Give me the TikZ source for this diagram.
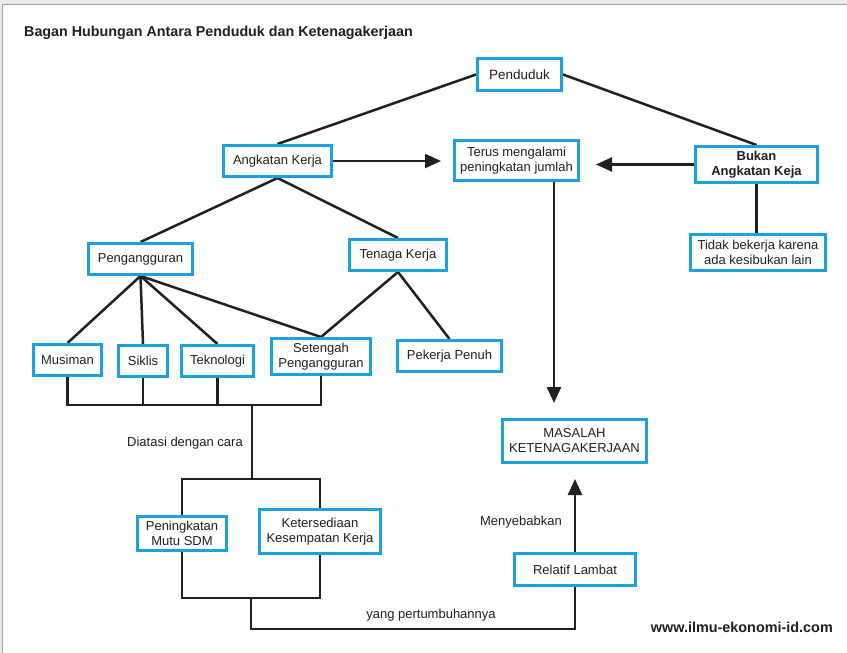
\documentclass[tikz,border=0pt]{standalone}
\usepackage{fontspec}
\setmainfont{Liberation Sans}
\usetikzlibrary{arrows.meta}
\pgfdeclarelayer{background}
\pgfsetlayers{background,main}
\definecolor{boxblue}{RGB}{27,161,226}
\definecolor{ink}{RGB}{35,31,32}
\definecolor{framegray}{RGB}{160,160,165}
\definecolor{bandgray}{RGB}{233,233,238}
\begin{document}
\begin{tikzpicture}[x=1pt,y=-1pt,
  box/.style={draw=boxblue, line width=3pt, fill=white, text=ink, align=center,
    inner sep=0pt, font=\fontsize{13}{15}\selectfont},
  conn/.style={draw=ink, line width=2.5pt},
  arr/.style={conn, -{Triangle[length=16pt,width=14pt]}},
  lbl/.style={text=ink, inner sep=0pt, font=\fontsize{13}{15}\selectfont}]
\useasboundingbox (0,0) rectangle (847,653);

% title and credit
\node[anchor=west, inner sep=0pt, text=ink, font=\bfseries\fontsize{14.3}{16}\selectfont] (title) at (24,33) {Bagan Hubungan Antara Penduduk dan Ketenagakerjaan};
\node[anchor=east, inner sep=0pt, text=ink, font=\bfseries\fontsize{14.4}{16}\selectfont] (web) at (833,627) {www.ilmu-ekonomi-id.com};

% nodes
\node[box, minimum width=84pt, minimum height=32pt, font=\fontsize{13.5}{15}\selectfont] (pend) at (519.5,74.5) {Penduduk};
\node[box, minimum width=108pt, minimum height=31pt] (ak) at (277.5,161) {Angkatan Kerja};
\node[box, minimum width=124pt, minimum height=40pt] (terus) at (516.5,160.5) {Terus mengalami\\peningkatan jumlah};
\node[box, minimum width=122pt, minimum height=36pt, font=\bfseries\fontsize{13}{15}\selectfont] (bukan) at (756.5,164.5) {Bukan\\Angkatan Keja};
\node[box, minimum width=135pt, minimum height=36pt] (tidak) at (758,252.5) {Tidak bekerja karena\\ada kesibukan lain};
\node[box, minimum width=104pt, minimum height=31pt] (peng) at (140.5,259) {Pengangguran};
\node[box, minimum width=97pt, minimum height=31pt] (tk) at (398,255) {Tenaga Kerja};
\node[box, minimum width=68pt, minimum height=31pt] (mus) at (67.5,360) {Musiman};
\node[box, minimum width=49pt, minimum height=31pt] (sik) at (143,361) {Siklis};
\node[box, minimum width=72pt, minimum height=31pt] (tek) at (217.5,361) {Teknologi};
\node[box, minimum width=99pt, minimum height=36pt] (set) at (321,356.5) {Setengah\\Pengangguran};
\node[box, minimum width=104pt, minimum height=31pt] (pp) at (449.5,356) {Pekerja Penuh};
\node[box, minimum width=144pt, minimum height=43pt] (mas) at (574.5,441) {MASALAH\\KETENAGAKERJAAN};
\node[box, minimum width=89pt, minimum height=34pt] (pen) at (182,533.5) {Peningkatan\\Mutu SDM};
\node[box, minimum width=121pt, minimum height=44pt] (kete) at (320,531.5) {Ketersediaan\\Kesempatan Kerja};
\node[box, minimum width=121pt, minimum height=32pt] (rel) at (575,569.5) {Relatif Lambat};

% labels
\node[lbl, anchor=east] (diatasi) at (243,443) {Diatasi dengan cara};
\node[lbl, anchor=east] (menye) at (562,522) {Menyebabkan};
\node[lbl] (yang) at (431,615) {yang pertumbuhannya};

% helper coordinates
\coordinate (b1) at (252,405);
\coordinate (b2) at (252,479);
\coordinate (b3) at (251,598);
\coordinate (b4) at (251,629);
\coordinate (ltip) at (441,162);
\coordinate (rtip) at (596,164.5);
\coordinate (dtip) at (554,403);
\coordinate (utip) at (575,479);

\begin{pgfonlayer}{background}
% frame of the screenshot
\fill[white] (0,0) rectangle (847,653);
\fill[bandgray] (0,0) rectangle (847,4);
\fill[bandgray] (0,4) rectangle (2,653);
\draw[framegray, line width=1pt] (2.5,653) -- (2.5,4.5) -- (847,4.5);

% connectors
\draw[conn] (pend.west) -- (ak.north);
\draw[conn] (pend.east) -- (bukan.north);
\draw[arr] (ak.east) -- (ltip |- ak.east);
\draw[arr] (bukan.west) -- (rtip |- bukan.west);
\draw[conn] (bukan.south) -- (bukan.south |- tidak.north);
\draw[arr] (terus.south -| dtip) -- (dtip);
\draw[conn] (ak.south) -- (peng.north);
\draw[conn] (ak.south) -- (tk.north);
\draw[conn] (peng.south) -- (mus.north);
\draw[conn] (peng.south) -- (sik.north);
\draw[conn] (peng.south) -- (tek.north);
\draw[conn] (peng.south) -- (set.north);
\draw[conn] (tk.south) -- (set.north);
\draw[conn] (tk.south) -- (pp.north);
\draw[conn] (mus.south) -- (mus.south |- b1) -- (set.south |- b1) -- (set.south);
\draw[conn] (sik.south) -- (sik.south |- b1);
\draw[conn] (tek.south) -- (tek.south |- b1);
\draw[conn] (b1) -- (b2);
\draw[conn] (pen.north) -- (pen.north |- b2) -- (kete.north |- b2) -- (kete.north);
\draw[conn] (pen.south) -- (pen.south |- b3) -- (kete.south |- b3) -- (kete.south);
\draw[conn] (b3) -- (b4) -- (rel.south |- b4) -- (rel.south);
\draw[arr] (rel.north) -- (rel.north |- utip);
\end{pgfonlayer}
\end{tikzpicture}
\end{document}
